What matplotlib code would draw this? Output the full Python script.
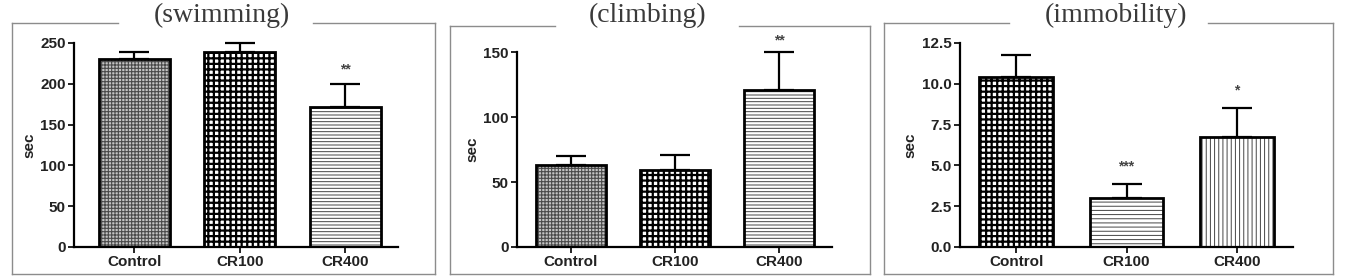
import matplotlib
matplotlib.use('Agg')
import matplotlib.pyplot as plt
from matplotlib.lines import Line2D

# ---- data ----
groups = ['Control', 'CR100', 'CR400']

swim_mean = [231, 239, 171]
swim_err = [8, 11, 29]
swim_stars = ['', '', '**']

climb_mean = [63, 59.5, 121]
climb_err = [7, 11.5, 29]
climb_stars = ['', '', '**']

immob_mean = [10.42, 3.03, 6.76]
immob_err = [1.37, 0.84, 1.77]
immob_stars = ['', '***', '*']

W, H = 1366, 278
fig = plt.figure(figsize=(W / 100, H / 100), dpi=100)
fig.patch.set_facecolor('white')
plt.rcParams['font.family'] = ['Liberation Sans', 'DejaVu Sans']


def px_axes(left, right, bottom, top):
    """axes rectangle from pixel edges (y measured from the top)"""
    return fig.add_axes([left / W, (H - bottom) / H, (right - left) / W, (bottom - top) / H])


# hatch styles: (facecolor, hatch colour, hatch, hatch linewidth)
FINE = ('#c4c4c4', '#4a4a4a', '+++++', 0.8)
COARSE = ('white', 'black', '+++', 1.6)
HLINES = ('white', '#444444', '-----', 0.7)
HLINES4 = ('white', '#444444', '----', 0.7)
VLINES = ('white', '#444444', '||||', 0.7)


def panel(ax, means, errs, stars, styles, ylim, yticks, yfmt, star_off, xlim):
    x = list(range(len(means)))
    for i in x:
        face, hcol, hatch, hlw = styles[i]
        with plt.rc_context({'hatch.linewidth': hlw, 'hatch.color': hcol}):
            ax.bar(x[i], means[i], width=0.67, color=face, edgecolor=hcol,
                   linewidth=0, hatch=hatch, zorder=2)
    ax.bar(x, means, width=0.67, fill=False, edgecolor='black', linewidth=2.0, zorder=3)
    ax.errorbar(x, means, yerr=[[0] * len(errs), errs], fmt='none', ecolor='black',
                elinewidth=1.6, capsize=11, capthick=1.6, zorder=1, clip_on=False)
    for i in x:
        if stars[i]:
            ax.text(x[i], means[i] + errs[i] + star_off, stars[i], ha='center', va='center',
                    fontsize=10, fontweight='bold', color='#444444')
    ax.set_xlim(*xlim)
    ax.set_ylim(*ylim)
    ax.set_yticks(yticks)
    ax.set_yticklabels([yfmt.format(v) for v in yticks])
    ax.set_xticks(x)
    ax.set_xticklabels(groups)
    for s in ['top', 'right']:
        ax.spines[s].set_visible(False)
    for s in ['left', 'bottom']:
        ax.spines[s].set_linewidth(1.6)
    ax.tick_params(axis='both', direction='out', length=4, width=1.4, labelsize=11,
                   colors='#222222', pad=2)
    for lab in ax.get_xticklabels() + ax.get_yticklabels():
        lab.set_fontweight('bold')
    ax.set_ylabel('sec', fontsize=11, fontweight='bold', color='#222222', labelpad=3)
    ax.patch.set_alpha(0)


ax1 = px_axes(74, 398, 247, 43)
panel(ax1, swim_mean, swim_err, swim_stars, [FINE, COARSE, HLINES],
      (0, 250), [0, 50, 100, 150, 200, 250], '{:g}', 17, (-0.57, 2.5))

ax2 = px_axes(517, 832, 247, 52)
panel(ax2, climb_mean, climb_err, climb_stars, [FINE, COARSE, HLINES],
      (0, 150), [0, 50, 100, 150], '{:g}', 9, (-0.52, 2.51))

ax3 = px_axes(960, 1293, 247, 43)
panel(ax3, immob_mean, immob_err, immob_stars, [COARSE, HLINES4, VLINES],
      (0, 12.5), [0, 2.5, 5.0, 7.5, 10.0, 12.5], '{:.1f}', 1.05, (-0.51, 2.51))


# framed boxes with a gap for the title
def frame(left, right, top, bottom, gap_l, gap_r, title, tx):
    kw = dict(color='#8c8c8c', linewidth=1.0, transform=fig.transFigure)
    def fx(v):
        return v / W
    def fy(v):
        return (H - v) / H
    fig.add_artist(Line2D([fx(left), fx(gap_l)], [fy(top), fy(top)], **kw))
    fig.add_artist(Line2D([fx(gap_r), fx(right)], [fy(top), fy(top)], **kw))
    fig.add_artist(Line2D([fx(left), fx(left)], [fy(top), fy(bottom)], **kw))
    fig.add_artist(Line2D([fx(right), fx(right)], [fy(top), fy(bottom)], **kw))
    fig.add_artist(Line2D([fx(left), fx(right)], [fy(bottom), fy(bottom)], **kw))
    fig.text(fx(tx), fy(15), title, ha='center', va='center', fontsize=20,
             family='Liberation Serif', color='#3a3a3a')


frame(12, 435, 23, 274, 118, 313, '(swimming)', 222)
frame(450, 870, 26, 274, 555, 739, '(climbing)', 648)
frame(884, 1333, 23, 274, 1009, 1208, '(immobility)', 1116)

plt.savefig('out.png', dpi=100)
